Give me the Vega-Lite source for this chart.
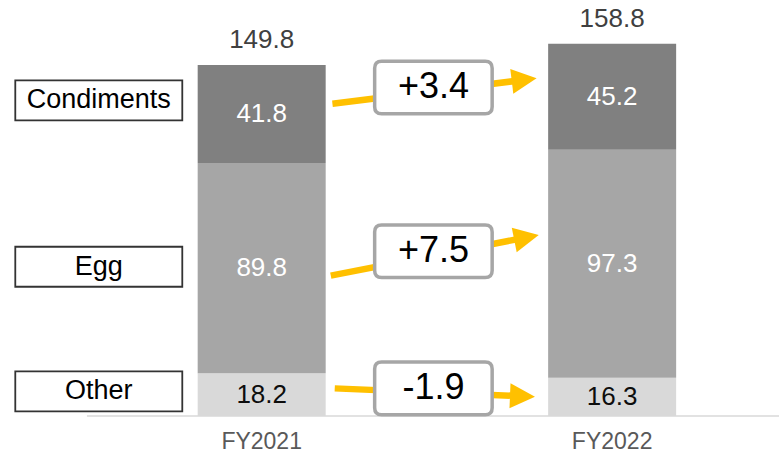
{
  "$schema": "https://vega.github.io/schema/vega-lite/v6.json",
  "width": 784,
  "height": 454,
  "padding": 0,
  "autosize": {"type": "none"},
  "background": "white",
  "config": {"view": {"stroke": null}, "font": "Liberation Sans"},
  "datasets": {
    "sales": [
      {"year": "FY2021", "pos": 1, "category": "Other", "value": 18.2},
      {"year": "FY2021", "pos": 1, "category": "Egg", "value": 89.8},
      {"year": "FY2021", "pos": 1, "category": "Condiments", "value": 41.8},
      {"year": "FY2022", "pos": 2, "category": "Other", "value": 16.3},
      {"year": "FY2022", "pos": 2, "category": "Egg", "value": 97.3},
      {"year": "FY2022", "pos": 2, "category": "Condiments", "value": 45.2}
    ],
    "notes": [
      {"category": "Condiments", "delta": "+3.4", "lx": 0.5352, "ly": 134.7, "x0": 1.2019, "y0": 133.2, "x1": 1.7632, "y1": 143.7, "angle": -7, "bx": 1.49, "by": 140.2},
      {"category": "Egg", "delta": "+7.5", "lx": 0.5352, "ly": 63.7, "x0": 1.1972, "y0": 59.9, "x1": 1.7696, "y1": 76.6, "angle": -11.3, "bx": 1.49, "by": 70.3},
      {"category": "Other", "delta": "-1.9", "lx": 0.5352, "ly": 10.5, "x0": 1.2085, "y0": 11.8, "x1": 1.7584, "y1": 8.37, "angle": 2.4, "bx": 1.49, "by": 11.8}
    ]
  },
  "layer": [
    {
      "data": {"values": [{}]},
      "mark": {"type": "rule", "color": "#d9d9d9", "strokeWidth": 1.5},
      "encoding": {
        "x": {"datum": 0.5014, "type": "quantitative", "scale": {"domain": [0.2676, 2.4761], "nice": false, "zero": false}, "axis": null},
        "x2": {"datum": 2.4761},
        "y": {"datum": 0, "type": "quantitative", "scale": {"domain": [-16.2, 177.5], "nice": false, "zero": false}, "axis": null}
      }
    },
    {
      "data": {"name": "sales"},
      "transform": [
        {"stack": "value", "groupby": ["year"], "sort": [{"field": "category", "order": "descending"}], "as": ["v0", "v1"]}
      ],
      "mark": {"type": "bar", "width": 128},
      "encoding": {
        "x": {"field": "pos", "type": "quantitative"},
        "y": {"field": "v0", "type": "quantitative"},
        "y2": {"field": "v1"},
        "fill": {"field": "category", "type": "nominal", "scale": {"domain": ["Condiments", "Egg", "Other"], "range": ["#808080", "#a6a6a6", "#d9d9d9"]}, "legend": null}
      }
    },
    {
      "data": {"name": "sales"},
      "transform": [
        {"stack": "value", "groupby": ["year"], "sort": [{"field": "category", "order": "descending"}], "as": ["v0", "v1"]},
        {"fold": ["v0", "v1"], "as": ["edge", "level"]},
        {"aggregate": [{"op": "mean", "field": "level", "as": "mid"}], "groupby": ["year", "pos", "category", "value"]}
      ],
      "mark": {"type": "text", "fontSize": 26, "baseline": "middle", "align": "center"},
      "encoding": {
        "x": {"field": "pos", "type": "quantitative"},
        "y": {"field": "mid", "type": "quantitative"},
        "text": {"field": "value", "type": "quantitative", "format": ".1f"},
        "color": {"condition": {"test": "datum.category === 'Other'", "value": "#0d0d0d"}, "value": "#ffffff"}
      }
    },
    {
      "data": {"name": "sales"},
      "transform": [
        {"aggregate": [{"op": "sum", "field": "value", "as": "total"}], "groupby": ["year", "pos"]}
      ],
      "layer": [
        {
          "mark": {"type": "text", "fontSize": 26, "baseline": "alphabetic", "dy": -17, "color": "#404040"},
          "encoding": {
            "x": {"field": "pos", "type": "quantitative"},
            "y": {"field": "total", "type": "quantitative"},
            "text": {"field": "total", "type": "quantitative", "format": ".1f"}
          }
        },
        {
          "mark": {"type": "text", "fontSize": 23, "baseline": "middle", "color": "#595959"},
          "encoding": {
            "x": {"field": "pos", "type": "quantitative"},
            "y": {"datum": -11, "type": "quantitative"},
            "text": {"field": "year"}
          }
        }
      ]
    },
    {
      "data": {"name": "notes"},
      "layer": [
        {
          "mark": {"type": "point", "shape": "M-1,-0.2395L1,-0.2395L1,0.2395L-1,0.2395Z", "size": 27889, "filled": true, "fill": "#ffffff", "stroke": "#333333", "strokeWidth": 1.8, "opacity": 1},
          "encoding": {
            "x": {"field": "lx", "type": "quantitative"},
            "y": {"field": "ly", "type": "quantitative"}
          }
        },
        {
          "mark": {"type": "text", "fontSize": 27, "baseline": "middle", "color": "#000000"},
          "encoding": {
            "x": {"field": "lx", "type": "quantitative"},
            "y": {"field": "ly", "type": "quantitative"},
            "text": {"field": "category"}
          }
        },
        {
          "mark": {"type": "rule", "color": "#ffc000", "strokeWidth": 6.5, "strokeCap": "butt"},
          "encoding": {
            "x": {"field": "x0", "type": "quantitative"},
            "y": {"field": "y0", "type": "quantitative"},
            "x2": {"field": "x1"},
            "y2": {"field": "y1"}
          }
        },
        {
          "mark": {"type": "point", "shape": "M-1.4,-1L0.6,0L-1.4,1Z", "size": 625, "filled": true, "fill": "#ffc000", "strokeWidth": 0, "opacity": 1},
          "encoding": {
            "x": {"field": "x1", "type": "quantitative"},
            "y": {"field": "y1", "type": "quantitative"},
            "angle": {"field": "angle", "type": "quantitative", "scale": null}
          }
        },
        {
          "mark": {"type": "point", "shape": "M-0.881,-0.447L0.881,-0.447Q1,-0.447 1,-0.328L1,0.328Q1,0.447 0.881,0.447L-0.881,0.447Q-1,0.447 -1,0.328L-1,-0.328Q-1,-0.447 -0.881,-0.447Z", "size": 13806, "filled": true, "fill": "#ffffff", "stroke": "#a6a6a6", "strokeWidth": 3.5, "opacity": 1},
          "encoding": {
            "x": {"field": "bx", "type": "quantitative"},
            "y": {"field": "by", "type": "quantitative"}
          }
        },
        {
          "mark": {"type": "text", "fontSize": 36, "baseline": "middle", "color": "#000000"},
          "encoding": {
            "x": {"field": "bx", "type": "quantitative"},
            "y": {"field": "by", "type": "quantitative"},
            "text": {"field": "delta"}
          }
        }
      ]
    }
  ]
}
